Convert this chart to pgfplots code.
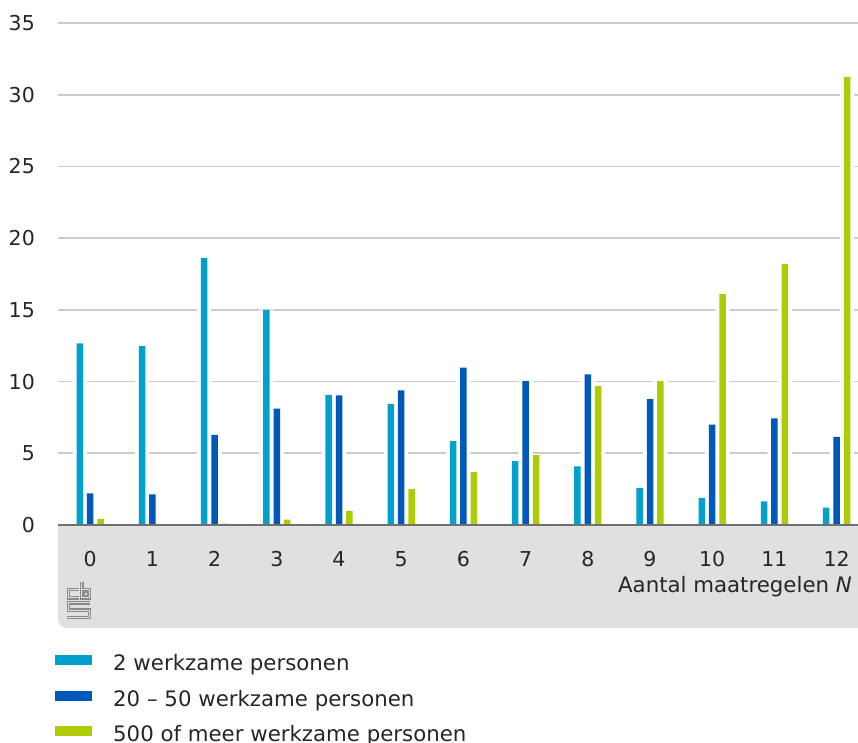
\documentclass[border=0pt]{standalone}
\usepackage{fontspec}
\setmainfont{DejaVu Sans}
\usepackage{pgfplots}
\usepackage{pgfplotstable}
\pgfplotsset{compat=1.18}
\definecolor{cbslight}{RGB}{0,161,205}
\definecolor{cbsdark}{RGB}{0,88,184}
\definecolor{cbsgreen}{RGB}{175,203,5}
\definecolor{gridgray}{RGB}{204,204,204}
\definecolor{axisgray}{RGB}{112,112,112}
\definecolor{boxgray}{RGB}{224,224,224}
\definecolor{textcol}{RGB}{38,38,38}
\definecolor{logogray}{RGB}{138,138,138}

\pgfplotstableread{
x a b c
0 12.66 2.20 0.43
1 12.47 2.13 0
2 18.60 6.29 0.10
3 15.00 8.12 0.38
4 9.05 9.03 0.99
5 8.45 9.38 2.52
6 5.84 10.98 3.68
7 4.45 10.03 4.87
8 4.08 10.50 9.68
9 2.59 8.77 10.03
10 1.90 6.99 16.10
11 1.64 7.43 18.20
12 1.22 6.15 31.25
}\datatable

\newcommand{\chartfont}{\fontsize{20.5bp}{24bp}\selectfont}
\newcommand{\labelfont}{\fontsize{21.3bp}{25bp}\selectfont}

\begin{document}
\begin{tikzpicture}
% grey panel under the x axis (px coordinates of the reference)
\begin{scope}[shift={(-58bp,525bp)}, x=1bp, y=-1bp]
  \fill[boxgray] (858,526) -- (858,628) [rounded corners=9bp] -- (58,628) -- (58,540) [sharp corners] -- (58,526) -- cycle;
  % cbs logo (approximation)
  \foreach \w/\c in {3.6bp/logogray, 1.3bp/boxgray}{
    \draw[\c, line width=\w, line join=miter] (79.5,589.5) -- (68.5,589.5) -- (68.5,597.8) -- (79.5,597.8);
    \draw[\c, line width=\w, line join=miter] (81.8,582.5) -- (81.8,597.8) -- (89.5,597.8) -- (89.5,589.5) -- (81.8,589.5);
    \draw[\c, line width=\w, line join=miter] (90,602.8) -- (68.5,602.8) -- (68.5,610.2) -- (89.5,610.2) -- (89.5,617.6) -- (67.5,617.6);
  }
  \draw[logogray, line width=1.1bp] (84,592) rectangle (87.3,595.3);
\end{scope}
\begin{axis}[
  at={(0,0)}, anchor=south west,
  scale only axis, width=800bp, height=502bp,
  xmin=-0.518, xmax=12.344, ymin=0, ymax=35,
  ybar, bar width=6.5bp,
  xtick={0,...,12}, ytick={0,5,...,35},
  major tick length=0pt,
  axis line style={draw=none},
  ymajorgrids, grid style={color=gridgray, line width=1.8bp},
  /pgf/number format/assume math mode=true,
  ticklabel style={font=\chartfont, text=textcol, inner sep=0pt},
  yticklabel style={anchor=east, xshift=-23bp},
  xticklabel style={anchor=north, yshift=-26bp},
  xlabel={Aantal maatregelen \textit{N}},
  xlabel style={at={(axis description cs:1,0)}, anchor=base east, inner sep=0pt, xshift=-6bp, yshift=-67bp, font=\labelfont, text=textcol},
  legend image code/.code={\fill[#1, draw=none] (0bp,0.5bp) rectangle (37bp,10.5bp);},
  legend cell align=left,
  legend style={at={(axis description cs:0,0)}, anchor=north west, xshift=-3bp, yshift=-130bp,
    draw=none, fill=none, inner sep=0pt, row sep=15bp, font=\labelfont, text=textcol,
    nodes={inner sep=0pt, text height=15bp, text depth=5bp},
    /tikz/every odd column/.append style={column sep=21bp}},
]
\addplot[fill=white, draw=none, bar width=14bp, bar shift=-10.4bp, forget plot] table[x=x, y=a] {\datatable};
\addplot[fill=white, draw=none, bar width=14bp, bar shift=0bp, forget plot] table[x=x, y=b] {\datatable};
\addplot[fill=white, draw=none, bar width=14bp, bar shift=10.4bp, forget plot] table[x=x, y=c] {\datatable};
\addplot[fill=cbslight, draw=none, bar shift=-10.4bp] table[x=x, y=a] {\datatable};
\addplot[fill=cbsdark, draw=none, bar shift=0bp] table[x=x, y=b] {\datatable};
\addplot[fill=cbsgreen, draw=none, bar shift=10.4bp] table[x=x, y=c] {\datatable};
\legend{2 werkzame personen, 20 – 50 werkzame personen, 500 of meer werkzame personen}
\draw[axisgray, line width=3.7bp] ([yshift=-0.9bp]rel axis cs:0,0) -- ([yshift=-0.9bp]rel axis cs:1,0);
\end{axis}
\pgfresetboundingbox
\path[use as bounding box] (-58bp,-218bp) rectangle (800bp,525bp);
\end{tikzpicture}
\end{document}
